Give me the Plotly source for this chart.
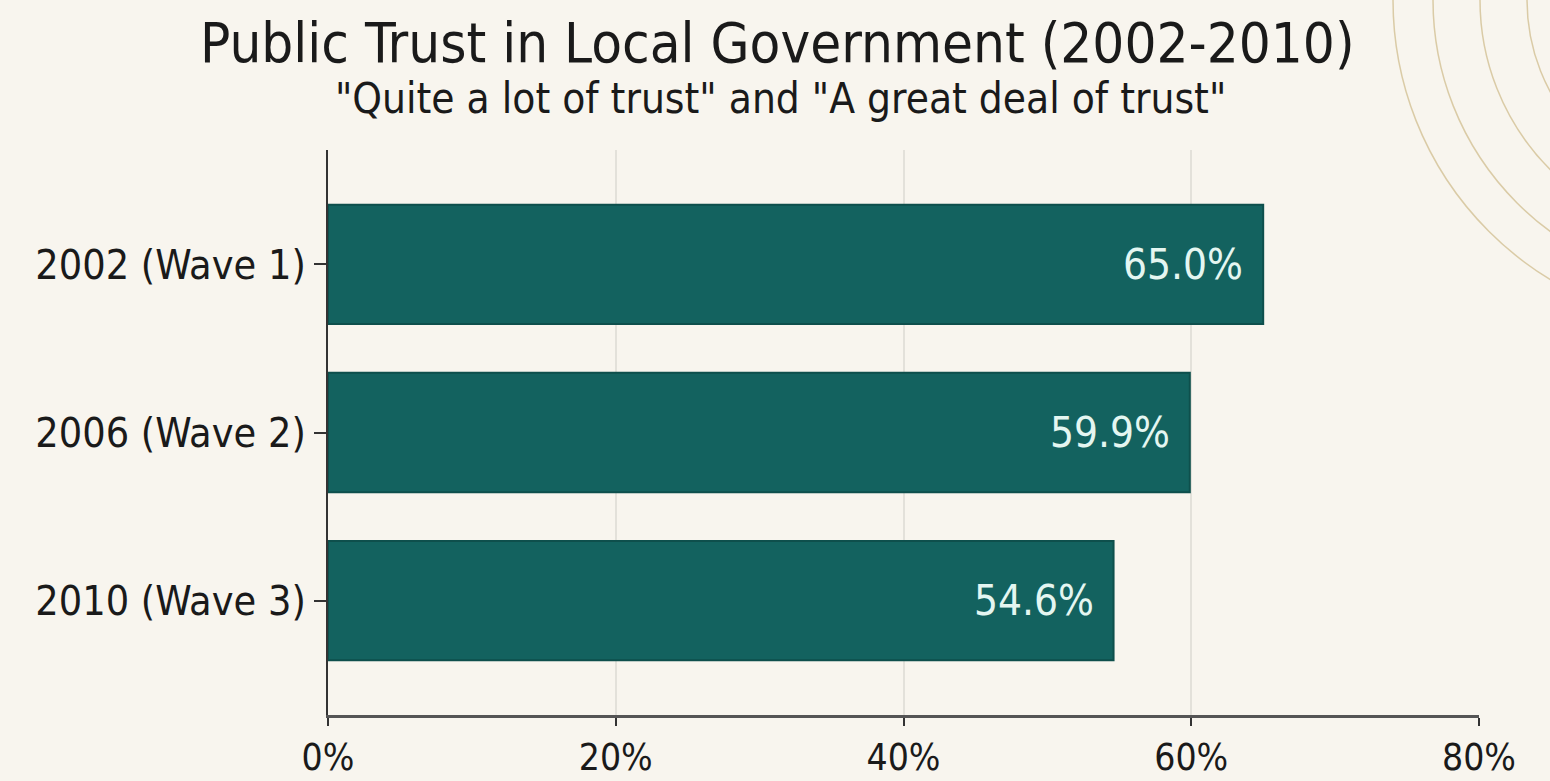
import plotly.graph_objects as go

categories = ["2002 (Wave 1)", "2006 (Wave 2)", "2010 (Wave 3)"]
values = [65.0, 59.9, 54.6]
x_ticks = [0, 20, 40, 60, 80]
x_tick_labels = ["0%", "20%", "40%", "60%", "80%"]
title_text = "Public Trust in Local Government (2002-2010)"
subtitle_text = "\"Quite a lot of trust\" and \"A great deal of trust\""

W, H = 1550, 781
ML, MR, MT, MB = 328, 71, 150, 66
PW = W - ML - MR
PH = H - MT - MB

BG = "#f8f5ee"
BAR = "#13625f"
COND = "Liberation Sans Narrow, DejaVu Sans Condensed, Roboto, sans-serif"

fig = go.Figure()
fig.add_trace(go.Bar(
    y=categories, x=values, orientation="h",
    marker=dict(color=BAR, line=dict(color="#0e4f4c", width=2)),
    hoverinfo="skip", showlegend=False,
))

annotations = []
for c, v in zip(categories, values):
    annotations.append(dict(
        x=v, y=c, xref="x", yref="y", text=f"{v:.1f}%",
        xanchor="right", yanchor="middle", xshift=-18, showarrow=False,
        font=dict(family=COND, size=42, color="#e4f6f1"),
    ))

def px2x(px):
    return (px - ML) / PW

def py2y(py):
    return (H - MB - py) / PH

annotations.append(dict(
    x=px2x(777), y=py2y(42), xref="paper", yref="paper", text=title_text,
    xanchor="center", yanchor="middle", showarrow=False,
    font=dict(family=COND, size=56, color="#1a1a1a"),
))
annotations.append(dict(
    x=px2x(780), y=py2y(99), xref="paper", yref="paper", text=subtitle_text,
    xanchor="center", yanchor="middle", showarrow=False,
    font=dict(family=COND, size=42, color="#1a1a1a"),
))

# decorative concentric arcs in the top-right corner
shapes = []
cx, cy = 1720, 0
for r in [193, 240, 287, 327]:
    shapes.append(dict(
        type="circle", xref="paper", yref="paper",
        x0=px2x(cx - r), x1=px2x(cx + r), y0=py2y(cy + r), y1=py2y(cy - r),
        line=dict(color="rgba(205,185,135,0.7)", width=1.5), layer="below",
    ))

fig.update_layout(
    width=W, height=H,
    margin=dict(l=ML, r=MR, t=MT, b=MB, autoexpand=False),
    paper_bgcolor=BG, plot_bgcolor=BG,
    bargap=0.29,
    annotations=annotations, shapes=shapes,
    xaxis=dict(
        range=[0, 80], tickvals=x_ticks, ticktext=x_tick_labels,
        showgrid=True, gridcolor="#e3e1da", gridwidth=1.5,
        showline=True, linecolor="#555555", linewidth=3,
        ticks="outside", ticklen=8, tickwidth=2, tickcolor="#333333",
        tickfont=dict(family=COND, size=37, color="#1a1a1a"),
        zeroline=False, fixedrange=True, automargin=False,
    ),
    yaxis=dict(
        categoryorder="array", categoryarray=categories,
        range=[2.68, -0.68],
        showline=True, linecolor="#333333", linewidth=2,
        ticks="outside", ticklen=12, tickwidth=1.5, tickcolor="#333333",
        tickfont=dict(family=COND, size=41, color="#1a1a1a"),
        showgrid=False, fixedrange=True, automargin=False,
    ),
)

fig.write_html(
    "out.html",
    config={"displayModeBar": False},
    post_script="document.body.style.margin='0';document.body.style.overflow='hidden';"
                "document.body.style.background='" + BG + "';",
)
